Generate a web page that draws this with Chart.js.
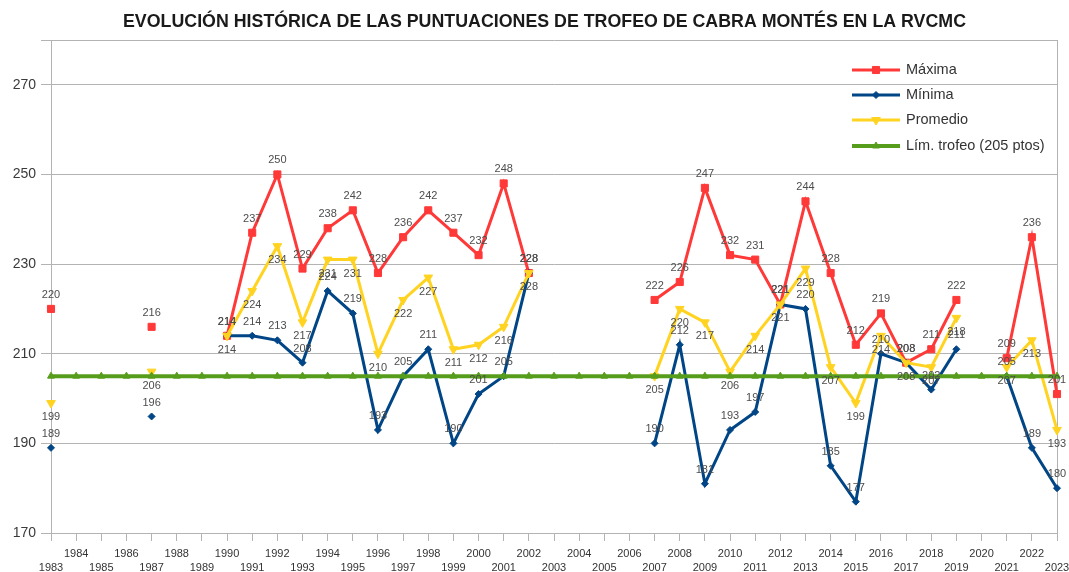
<!DOCTYPE html>
<html><head><meta charset="utf-8">
<script src="https://cdn.jsdelivr.net/npm/chart.js@4.4.1/dist/chart.umd.min.js"></script>
<style>html,body{margin:0;padding:0;background:#fff}#wrap{width:1069px;height:572px;position:relative}</style>
</head><body><div id="wrap"><canvas id="c" width="1069" height="572"></canvas></div>
<script>
const title = 'EVOLUCIÓN HISTÓRICA DE LAS PUNTUACIONES DE TROFEO DE CABRA MONTÉS EN LA RVCMC';
const years = ['1983','1984','1985','1986','1987','1988','1989','1990','1991','1992','1993','1994','1995','1996','1997','1998','1999','2000','2001','2002','2003','2004','2005','2006','2007','2008','2009','2010','2011','2012','2013','2014','2015','2016','2017','2018','2019','2020','2021','2022','2023'];
const maxima   = [220,null,null,null,216,null,null,214,237,250,229,238,242,228,236,242,237,232,248,228,null,null,null,null,222,226,247,232,231,221,244,228,212,219,208,211,222,null,209,236,201];
const minima   = [189,null,null,null,196,null,null,214,214,213,208,224,219,193,205,211,190,201,205,228,null,null,null,null,190,212,181,193,197,221,220,185,177,210,208,202,211,null,205,189,180];
const promedio = [199,null,null,null,206,null,null,214,224,234,217,231,231,210,222,227,211,212,216,228,null,null,null,null,205,220,217,206,214,221,229,207,199,214,208,207,218,null,207,213,193];
const limite   = [205,205,205,205,205,205,205,205,205,205,205,205,205,205,205,205,205,205,205,205,205,205,205,205,205,205,205,205,205,205,205,205,205,205,205,205,205,205,205,205,205];
const seriesNames = ['Máxima','Mínima','Promedio','Lím. trofeo (205 ptos)'];
const yTicks = [170,190,210,230,250,270];
const yMin = 170, yMax = 280;

const FONT = '"Liberation Sans", Arial, sans-serif';
const colors = {red:'#ff3838', blue:'#004586', yellow:'#ffd320', green:'#579d1c'};

const titlePlugin = {
  id:'titleDraw',
  afterDraw(chart){
    const ctx = chart.ctx;
    ctx.save();
    ctx.font = 'bold 18px "Liberation Sans Narrow", "Liberation Sans", Arial, sans-serif';
    ctx.fillStyle = '#1a1a1a';
    ctx.textBaseline = 'middle';
    ctx.textAlign = 'left';
    const w = ctx.measureText(title).width;
    const s = 843 / w;
    ctx.translate(123, 22);
    ctx.scale(s, 1);
    ctx.fillText(title, 0, 0);
    ctx.restore();
  }
};

const labelPlugin = {
  id:'vals',
  afterDatasetsDraw(chart){
    const ctx = chart.ctx;
    ctx.save();
    ctx.font = '11px ' + FONT;
    ctx.fillStyle = '#4d4d4d';
    ctx.textAlign = 'center';
    ctx.textBaseline = 'middle';
    chart.data.datasets.forEach((ds,i)=>{
      if (ds.labelOffset == null) return;
      const meta = chart.getDatasetMeta(i);
      meta.data.forEach((pt,j)=>{
        const v = ds.data[j];
        if (v == null) return;
        ctx.fillText(String(v), pt.x, pt.y + ds.labelOffset);
      });
    });
    ctx.restore();
  }
};

const legendPlugin = {
  id:'legendDraw',
  afterDraw(chart){
    const ctx = chart.ctx;
    ctx.save();
    const ys = [70, 95, 120, 146];
    [0,1,2,3].forEach((k,idx)=>{
      const ds = chart.data.datasets[k];
      const y = ys[idx];
      ctx.strokeStyle = ds.borderColor;
      ctx.lineWidth = ds.borderWidth;
      ctx.beginPath(); ctx.moveTo(852, y); ctx.lineTo(900, y); ctx.stroke();
      ctx.fillStyle = ds.borderColor;
      ctx.lineWidth = 1;
      Chart.helpers.drawPoint(ctx, {pointStyle: ds.pointStyle, rotation: ds.pointRotation||0, radius: ds.pointRadius, borderWidth:1}, 876, y);
      ctx.fillStyle = '#333333';
      ctx.font = '14.5px ' + FONT;
      ctx.textBaseline = 'middle';
      ctx.textAlign = 'left';
      ctx.fillText(seriesNames[k], 906, y);
    });
    ctx.restore();
  }
};

const grid = '#b3b3b3';
new Chart(document.getElementById('c'), {
  type:'line',
  data:{
    labels: years,
    datasets:[
      {label:seriesNames[0], data:maxima, borderColor:colors.red, backgroundColor:colors.red, pointBackgroundColor:colors.red, pointBorderColor:colors.red,
       borderWidth:3, pointStyle:'rect', pointRadius:5, pointBorderWidth:1, spanGaps:false, order:4, labelOffset:-14, clip:false},
      {label:seriesNames[1], data:minima, borderColor:colors.blue, backgroundColor:colors.blue, pointBackgroundColor:colors.blue, pointBorderColor:colors.blue,
       borderWidth:3, pointStyle:'rectRot', pointRadius:3.5, pointBorderWidth:1, spanGaps:false, order:3, labelOffset:-14, clip:false},
      {label:seriesNames[2], data:promedio, borderColor:colors.yellow, backgroundColor:colors.yellow, pointBackgroundColor:colors.yellow, pointBorderColor:colors.yellow,
       borderWidth:3, pointStyle:'triangle', pointRotation:180, pointRadius:5, pointBorderWidth:1, spanGaps:false, order:2, labelOffset:14, clip:false},
      {label:seriesNames[3], data:limite, borderColor:colors.green, backgroundColor:colors.green, pointBackgroundColor:colors.green, pointBorderColor:colors.green,
       borderWidth:4, pointStyle:'triangle', pointRadius:4, pointBorderWidth:1, spanGaps:false, order:1, clip:false}
    ]
  },
  options:{
    responsive:false, animation:false, devicePixelRatio:1,
    layout:{padding:{top:40, right:12, left:0, bottom:0}},
    plugins:{legend:{display:false}, tooltip:{enabled:false}, title:{display:false}},
    elements:{line:{tension:0}},
    scales:{
      x:{
        type:'category', offset:false,
        grid:{display:true, drawOnChartArea:true, drawTicks:true, tickLength:8, tickColor:grid,
              color:(c)=> (c.index === years.length-1 ? grid : 'rgba(0,0,0,0)'), lineWidth:1},
        border:{display:true, color:grid, width:1},
        ticks:{autoSkip:false, maxRotation:0, minRotation:0, padding:6, color:'#333333',
               font:{family:FONT, size:11, lineHeight:1.25},
               callback:(v,i)=> (i % 2 === 0 ? ['', years[i]] : [years[i]])},
        afterFit:(s)=>{ s.height = 39; s.paddingLeft = 0; s.paddingRight = 0; }
      },
      y:{
        min:yMin, max:yMax,
        grid:{color:grid, lineWidth:1, tickLength:10, drawTicks:true},
        border:{display:true, color:grid, width:1},
        afterBuildTicks:(s)=>{ s.ticks = yTicks.concat([yMax]).map(v=>({value:v})); },
        ticks:{padding:5, color:'#3a3a3a', font:{family:FONT, size:14},
               callback:(v)=> (yTicks.includes(v) ? String(v) : '')},
        afterFit:(s)=>{ s.width = 51; s.paddingTop = 0; s.paddingBottom = 0; }
      }
    }
  },
  plugins:[labelPlugin, legendPlugin, titlePlugin]
});
</script></body></html>
